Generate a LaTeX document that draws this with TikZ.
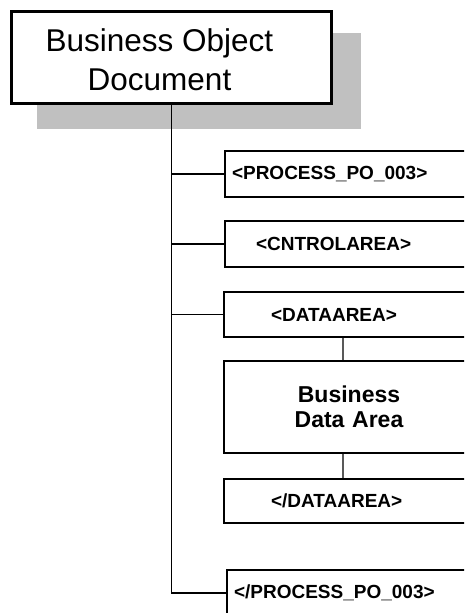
\documentclass[tikz,border=0pt]{standalone}
\usepackage{fontspec}
\setmainfont{Liberation Sans}
\definecolor{shadowgray}{HTML}{C0C0C0}
\tikzset{
	bodbox/.style={draw,line width=3pt,fill=white,minimum width=320pt,minimum height=92pt,anchor=north west,inner sep=0pt},
	bodtext/.style={align=center,font=\fontsize{31.5}{39}\selectfont},
	tagbox/.style={draw,line width=2pt,fill=white,anchor=north west,align=left,text width=240pt,inner ysep=0pt,font=\fontsize{19}{22}\selectfont\bfseries},
	datbox/.style={draw,line width=2pt,fill=white,anchor=north west,align=center,text width=250pt,inner xsep=0pt,inner ysep=0pt,font=\fontsize{23}{25.5}\selectfont\bfseries},
	trunk/.style={line width=1.2pt,black},
	inner/.style={line width=1.2pt,black!65}
}
\begin{document}
\begin{tikzpicture}[line cap=butt,line join=miter,x=1pt,y=-1pt]
		\useasboundingbox (0,0) rectangle (464,613);
		\clip (0,0) rectangle (464,613);
		% top box with its shadow
		\node[bodbox] (bod) at (10,9.5) {};
		\fill[shadowgray] ([xshift=27,yshift=-23]bod.north west) rectangle ([xshift=28,yshift=-24]bod.south east);
		\node[bodbox,label={[bodtext,xshift=-12pt,yshift=-3pt]center:Business Object\\Document}] (bod) at (10,9.5) {};
		% tags
		\node[tagbox,minimum height=46pt,inner xsep=7pt] (po) at (224,150) {\textless PROCESS\_PO\_003\textgreater};
		\node[tagbox,minimum height=46pt,inner xsep=31pt] (ca) at (224,220) {\textless CNTROLAREA\textgreater};
		\node[tagbox,minimum height=45pt,inner xsep=47pt] (da) at (223,291) {\textless DATAAREA\textgreater};
		\node[datbox,minimum height=92pt] (bda) at (223,360) {Business\\Data Area};
		\node[tagbox,minimum height=44pt,inner xsep=47pt] (dae) at (223,478) {\textless/DATAAREA\textgreater};
		\node[tagbox,minimum height=90pt,inner xsep=7pt,text depth=46pt] (poe) at (226,569) {\textless/PROCESS\_PO\_003\textgreater};
		% connectors
		\draw[trunk] (bod.south) |- (po.west);
		\draw[trunk] (bod.south) |- (ca.west);
		\draw[trunk] (bod.south) |- (da.west);
		\draw[trunk] (bod.south) |- ([yshift=-24]poe.north west);
		\draw[inner] ([xshift=120]da.south west) -- ([xshift=120]bda.north west);
		\draw[inner] ([xshift=120]bda.south west) -- ([xshift=120]dae.north west);
	\end{tikzpicture}
\end{document}
